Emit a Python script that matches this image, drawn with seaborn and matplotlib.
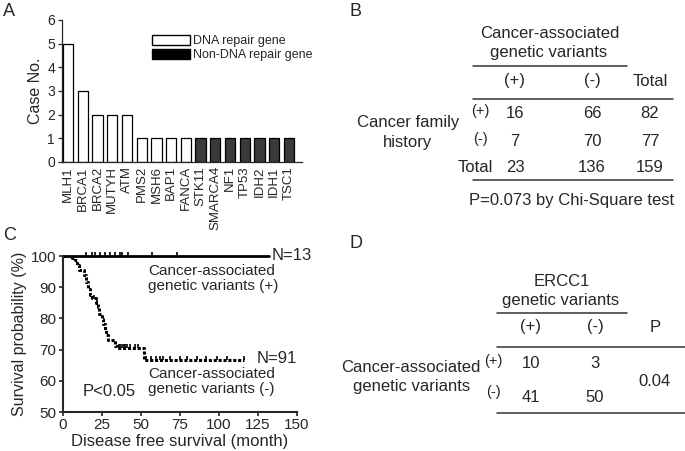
import numpy as np
import pandas as pd
import seaborn as sns
import matplotlib
matplotlib.use('Agg')
from matplotlib import pyplot as plt
from matplotlib.patches import Patch

# Panel A: genes with cancer-associated variants
genes = ['MLH1', 'BRCA1', 'BRCA2', 'MUTYH', 'ATM', 'PMS2', 'MSH6', 'BAP1', 'FANCA',
         'STK11', 'SMARCA4', 'NF1', 'TP53', 'IDH2', 'IDH1', 'TSC1']
case_no = [5, 3, 2, 2, 2, 1, 1, 1, 1, 1, 1, 1, 1, 1, 1, 1]
gene_group = ['DNA repair gene'] * 9 + ['Non-DNA repair gene'] * 7

# Panel B: family history vs variants
b_cols = ['(+)', '(-)', 'Total']
b_rows = ['(+)', '(-)', 'Total']
b_vals = [[16, 66, 82], [7, 70, 77], [23, 136, 159]]

# Panel C: Kaplan-Meier, variants (-) group
neg_time = [0, 6, 8, 9, 10.5, 13.5, 15, 16.5, 17.5, 18.5, 21.5, 22.5, 23.5, 25, 26, 27,
            28, 29, 33.5, 35, 52, 116]
neg_surv = [100, 99.3, 98.6, 97.2, 95.5, 93.8, 91.6, 89.3, 87.6, 86.5, 84.8, 83.7, 81.5,
            79.8, 78.1, 76.4, 74.7, 73.0, 71.3, 70.6, 66.7, 66.7]
neg_censor = [20, 22, 36, 37, 38, 39, 40, 41, 43, 46, 48, 53.5, 56.5, 60, 62.5, 64.5,
              69, 75, 79.5, 86, 92, 98.5, 105, 116]
pos_time = [0, 132]
pos_surv = [100, 100]
pos_censor = [15, 18.5, 20.5, 24, 27, 30, 33.5, 37, 38, 42, 57, 73]

# Panel D: ERCC1 vs cancer-associated variants
d_cols = ['(+)', '(-)']
d_rows = ['(+)', '(-)']
d_vals = [[10, 3], [41, 50]]
d_p = '0.04'

sns.set_style('ticks')
plt.rcParams['font.family'] = ['Liberation Sans', 'DejaVu Sans']
plt.rcParams['xtick.direction'] = 'out'
plt.rcParams['ytick.direction'] = 'out'

fig = plt.figure(figsize=(6.85, 4.51), dpi=100)
W, H = 685, 451

# ---------- A ----------
axA = fig.add_axes([62 / W, 1 - 162 / H, 240 / W, 142 / H])
dfA = pd.DataFrame({'gene': genes, 'n': case_no, 'group': gene_group})
sns.barplot(data=dfA, x='gene', y='n', hue='group', dodge=False, width=0.7,
            palette={'DNA repair gene': 'white', 'Non-DNA repair gene': '#3a3a3a'},
            edgecolor='black', linewidth=0.9, legend=False, ax=axA)
axA.set_xlim(-0.42, 15.9)
axA.set_ylim(0, 6)
axA.set_yticks(range(0, 7))
axA.set_xlabel('')
axA.set_ylabel('Case No.', fontsize=11.5, labelpad=3)
axA.tick_params(axis='x', labelrotation=90, labelsize=9.5, length=0, pad=3)
axA.tick_params(axis='y', labelsize=10, length=3, width=0.9, pad=2)
for s in ['left', 'bottom']:
    axA.spines[s].set_linewidth(0.9)
sns.despine(ax=axA)
handles = [Patch(facecolor='white', edgecolor='black', label='DNA repair gene'),
           Patch(facecolor='black', edgecolor='black', label='Non-DNA repair gene')]
axA.legend(handles=handles, loc='upper left', bbox_to_anchor=(0.355, 0.93), frameon=False,
           fontsize=9, handlelength=3.0, handleheight=0.8, handletextpad=0.3,
           labelspacing=0.15, borderaxespad=0)

# ---------- C ----------
axC = fig.add_axes([62.7 / W, 1 - 412 / H, 234.3 / W, 156 / H])
dfneg = pd.DataFrame({'t': neg_time, 's': neg_surv})
sns.lineplot(data=dfneg, x='t', y='s', drawstyle='steps-post', color='black',
             linestyle=(0, (1, 0.6)), linewidth=2.2, estimator=None, ax=axC)
dfpos = pd.DataFrame({'t': pos_time, 's': pos_surv})
sns.lineplot(data=dfpos, x='t', y='s', color='black', linewidth=2.0, estimator=None,
             ax=axC, clip_on=False)
idx = np.searchsorted(neg_time, neg_censor, side='right') - 1
axC.plot(neg_censor, np.array(neg_surv)[idx] + 0.5, linestyle='none', marker='|',
         markersize=3.5, color='black', markeredgewidth=1.2)
axC.plot(pos_censor, [100.6] * len(pos_censor), linestyle='none', marker='|',
         markersize=3.5, color='black', markeredgewidth=1.2, clip_on=False)
axC.set_xlim(0, 150)
axC.set_ylim(50, 100)
axC.set_xticks(range(0, 151, 25))
axC.set_yticks(range(50, 101, 10))
axC.set_xlabel('Disease free survival (month)', fontsize=12, labelpad=1)
axC.set_ylabel('Survival probability (%)', fontsize=11.5, labelpad=3)
axC.tick_params(labelsize=11, length=3, width=1.2, pad=1.5)
for s in ['left', 'bottom']:
    axC.spines[s].set_linewidth(1.5)
sns.despine(ax=axC)
axC.text(134, 100, 'N=13', fontsize=12, va='center', ha='left')
axC.text(124, 67, 'N=91', fontsize=12, va='center', ha='left')
axC.text(54.5, 97.5, 'Cancer-associated\ngenetic variants (+)', fontsize=11,
         va='top', ha='left', linespacing=1.1)
axC.text(54.5, 64.3, 'Cancer-associated\ngenetic variants (-)', fontsize=11,
         va='top', ha='left', linespacing=1.1)
axC.text(13, 56.5, 'P<0.05', fontsize=12, va='center', ha='left')

# ---------- tables B and D (pixel overlay) ----------
ov = fig.add_axes([0, 0, 1, 1])
ov.set_xlim(0, W)
ov.set_ylim(H, 0)
ov.axis('off')
ov.patch.set_alpha(0)

for lab, (x, y) in {'A': (3, 12), 'B': (350, 12), 'C': (3, 236), 'D': (350, 244)}.items():
    ov.text(x, y, lab, fontsize=13, ha='left', va='center')

fs = 12
# B
ov.text(550, 33, 'Cancer-associated', fontsize=fs, ha='center', va='center')
ov.text(549, 53, 'genetic variants', fontsize=fs, ha='center', va='center')
ov.plot([473, 627], [66, 66], color='#333333', lw=1.1)
bx = [515, 592, 650]
for x, c in zip(bx, b_cols):
    ov.text(x, 81, c, fontsize=fs, ha='center', va='center')
ov.plot([473, 673], [99, 99], color='#333333', lw=1.1)
by = [114, 142, 167]
for y, r, vals in zip(by, b_rows, b_vals):
    if r == 'Total':
        ov.text(475, y, r, fontsize=fs, ha='center', va='center')
    else:
        ov.text(480, y - 3, r, fontsize=10.5, ha='center', va='center')
    for x, v in zip(bx, vals):
        ov.text(x, y, str(v), fontsize=fs, ha='center', va='center')
ov.text(408, 123, 'Cancer family', fontsize=fs, ha='center', va='center')
ov.text(408, 142, 'history', fontsize=fs, ha='center', va='center')
ov.plot([473, 673], [180, 180], color='#333333', lw=1.1)
ov.text(572, 200, 'P=0.073 by Chi-Square test', fontsize=fs, ha='center', va='center')

# D
ov.text(562, 281, 'ERCC1', fontsize=fs, ha='center', va='center')
ov.text(561, 301, 'genetic variants', fontsize=fs, ha='center', va='center')
ov.plot([497, 627], [313, 313], color='#333333', lw=1.1)
dx = [531, 595]
for x, c in zip(dx, d_cols):
    ov.text(x, 327, c, fontsize=fs, ha='center', va='center')
ov.text(655, 327, 'P', fontsize=fs, ha='center', va='center')
ov.plot([497, 685], [347, 347], color='#333333', lw=1.1)
dy = [363, 398]
for y, ry, r, vals in zip(dy, [361, 392], d_rows, d_vals):
    ov.text(493, ry, r, fontsize=10.5, ha='center', va='center')
    for x, v in zip(dx, vals):
        ov.text(x, y, str(v), fontsize=fs, ha='center', va='center')
ov.text(655, 381, d_p, fontsize=fs, ha='center', va='center')
ov.text(481, 367, 'Cancer-associated', fontsize=fs, ha='right', va='center')
ov.text(412, 387, 'genetic variants', fontsize=fs, ha='center', va='center')
ov.plot([497, 685], [413, 413], color='#333333', lw=1.1)

fig.savefig('out.png', dpi=100)
